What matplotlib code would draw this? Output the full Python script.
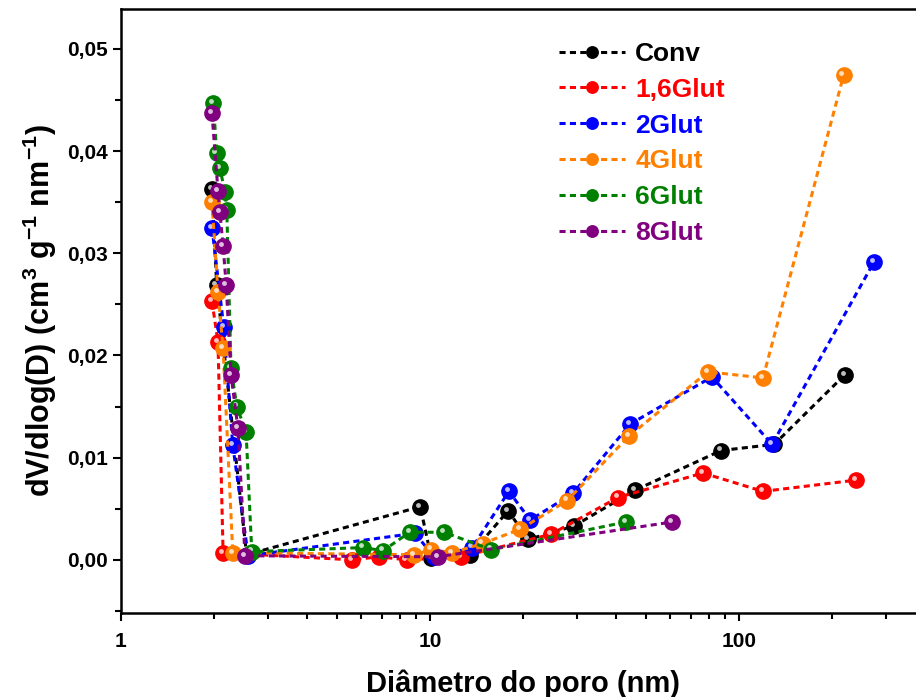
import matplotlib
matplotlib.use('Agg')
import matplotlib.pyplot as plt
from matplotlib.transforms import offset_copy
from matplotlib.ticker import FuncFormatter, MultipleLocator, LogLocator, NullFormatter

plt.rcParams['font.family'] = ['Liberation Sans', 'DejaVu Sans']
plt.rcParams['font.weight'] = 'bold'
plt.rcParams['mathtext.fontset'] = 'custom'
plt.rcParams['mathtext.bf'] = 'Liberation Sans:bold'
plt.rcParams['mathtext.rm'] = 'Liberation Sans:bold'
plt.rcParams['mathtext.default'] = 'bf'

# pore diameter (nm) and dV/dlog(D) for each sample
conv_x = [1.97, 2.04, 2.55, 9.3, 10.1, 13.5, 17.9, 20.8, 29.2, 46, 87.5, 130, 220]
conv_y = [0.0363, 0.0269, 0.0005, 0.0052, 0.0002, 0.0005, 0.0048, 0.0020, 0.0033, 0.0068, 0.0107, 0.0113, 0.0181]

glut16_x = [1.97, 2.06, 2.14, 5.6, 6.84, 8.4, 12.6, 24.6, 40.6, 76.4, 119.6, 239]
glut16_y = [0.0253, 0.0213, 0.0007, 0.0000, 0.0003, 0.0000, 0.0003, 0.0025, 0.0061, 0.0085, 0.0067, 0.0078]

glut2_x = [1.97, 2.15, 2.30, 2.58, 8.94, 10.3, 13.7, 18.0, 21.1, 29.0, 44.5, 81.8, 128, 273]
glut2_y = [0.0325, 0.0228, 0.0112, 0.0004, 0.0026, 0.0003, 0.0012, 0.0067, 0.0039, 0.0065, 0.0133, 0.0179, 0.0113, 0.0291]

glut4_x = [1.97, 2.06, 2.14, 2.30, 8.9, 10.1, 11.8, 14.8, 19.6, 27.8, 44, 79.4, 119.6, 218]
glut4_y = [0.0350, 0.0262, 0.0207, 0.0007, 0.0005, 0.0010, 0.0007, 0.0016, 0.0030, 0.0058, 0.0121, 0.0184, 0.0178, 0.0474]

glut6_x = [1.99, 2.04, 2.09, 2.17, 2.20, 2.27, 2.37, 2.54, 2.65, 6.07, 7.05, 8.6, 11.1, 15.8, 43]
glut6_y = [0.0447, 0.0398, 0.0383, 0.0360, 0.0342, 0.0188, 0.0150, 0.0125, 0.0008, 0.0012, 0.0009, 0.0027, 0.0027, 0.0010, 0.0037]

glut8_x = [1.97, 2.06, 2.09, 2.14, 2.19, 2.27, 2.39, 2.52, 10.6, 60.7]
glut8_y = [0.0437, 0.0361, 0.0340, 0.0307, 0.0269, 0.0181, 0.0129, 0.0004, 0.0003, 0.0037]

labels = ['Conv', '1,6Glut', '2Glut', '4Glut', '6Glut', '8Glut']
colors = ['#000000', '#FF0000', '#0000FF', '#FF8000', '#008000', '#800080']
series = [(conv_x, conv_y), (glut16_x, glut16_y), (glut2_x, glut2_y),
          (glut4_x, glut4_y), (glut6_x, glut6_y), (glut8_x, glut8_y)]

fig = plt.figure(figsize=(9.16, 6.97), dpi=100)
ax = fig.add_axes([121 / 916, 84 / 697, 804 / 916, 604 / 697])

# small white shine on each ball, shifted up-left
shine = offset_copy(ax.transData, fig=fig, x=-2.2, y=2.2, units='dots')

handles = []
for (xs, ys), lab, col in zip(series, labels, colors):
	ln, = ax.plot(xs, ys, color=col, lw=2.2, dashes=(2.0, 1.4),
	              marker='o', markersize=11, markerfacecolor=col,
	              markeredgecolor=col, label=lab)
	ax.plot(xs, ys, ls='none', marker='o', markersize=3.5,
	        markerfacecolor='white', markeredgecolor='none', alpha=0.75,
	        transform=shine)
	handles.append(ln)

ax.set_xscale('log')
ax.set_xlim(1, 400)
ax.set_ylim(-0.0052, 0.0539)

ax.xaxis.set_major_locator(LogLocator(base=10, numticks=10))
ax.xaxis.set_minor_locator(LogLocator(base=10, subs=range(2, 10), numticks=20))
ax.xaxis.set_minor_formatter(NullFormatter())
ax.xaxis.set_major_formatter(FuncFormatter(lambda v, p: '{:g}'.format(v)))

ax.yaxis.set_major_locator(MultipleLocator(0.01))
ax.yaxis.set_minor_locator(MultipleLocator(0.005))
ax.yaxis.set_major_formatter(FuncFormatter(lambda v, p: '{:.2f}'.format(v).replace('.', ',').replace('-0,00', '0,00')))

ax.tick_params(axis='both', which='major', direction='out', length=6, width=1.5, labelsize=15)
ax.tick_params(axis='x', which='major', pad=8)
ax.tick_params(axis='both', which='minor', direction='out', length=4, width=1.5)
for s in ax.spines.values():
	s.set_linewidth(1.8)

ax.set_xlabel('Diâmetro do poro (nm)', fontsize=21, fontweight='bold', labelpad=13)
ax.set_ylabel('dV/dlog(D) (cm$^3$ g$^{-1}$ nm$^{-1}$)', fontsize=22, fontweight='bold', labelpad=6)

leg = ax.legend(handles=handles, loc='upper left', bbox_to_anchor=(0.515, 0.985),
                frameon=False, fontsize=19, markerscale=0.75, handlelength=2.5,
                handletextpad=0.4, labelspacing=0.45)
for txt, col in zip(leg.get_texts(), colors):
	txt.set_color(col)
	txt.set_fontweight('bold')

fig.savefig('out.png', dpi=100)
